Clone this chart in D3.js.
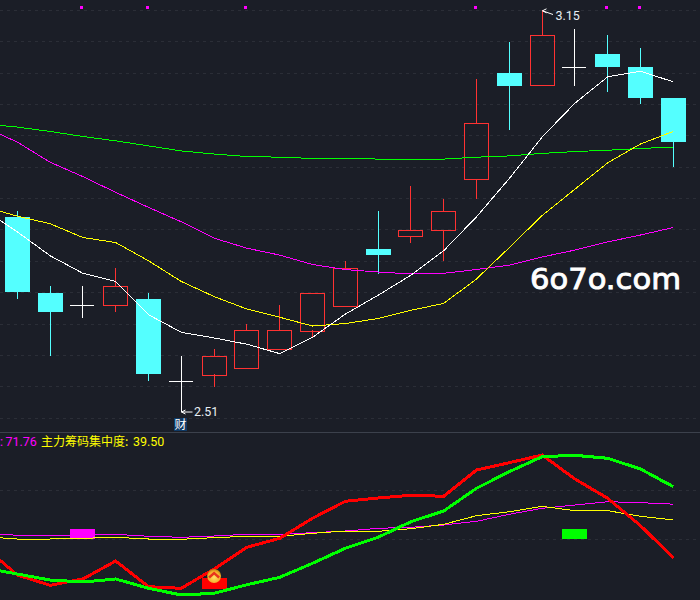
<!DOCTYPE html>
<html><head><meta charset="utf-8">
<style>html,body{margin:0;padding:0;background:#1b1e27;overflow:hidden}svg{display:block}</style>
<script src="https://cdn.jsdelivr.net/npm/d3@7"></script></head>
<body><svg id="c" width="700" height="600"></svg>
<script>
// candle index: -1 is the partly visible session before the first whole candle
const sessions=[-1,0,1,2,3,4,5,6,7,8,9,10,11,12,13,14,15,16,17,18,19,20];
const opens =[2.82,2.70,2.68,2.68,2.69,2.56,2.57,2.58,2.61,2.64,2.68,2.77,2.79,2.80,2.88,3.05,3.03,3.06,3.08,3.06,3.01];
const closes=[2.70,2.67,2.68,2.71,2.57,2.56,2.60,2.64,2.64,2.70,2.74,2.76,2.80,2.83,2.97,3.03,3.11,3.06,3.06,3.01,2.94];
const highs =[2.83,2.71,2.71,2.74,2.70,2.60,2.61,2.65,2.68,2.70,2.75,2.83,2.87,2.85,3.04,3.10,3.15,3.12,3.11,3.09,3.01];
const lows  =[2.69,2.60,2.66,2.67,2.56,2.51,2.55,2.58,2.61,2.63,2.68,2.73,2.78,2.75,2.85,2.96,3.03,3.03,3.02,3.00,2.90];
const ma5 =[2.832,2.797,2.759,2.731,2.718,2.665,2.637,2.628,2.618,2.603,2.629,2.666,2.696,2.728,2.767,2.821,2.882,2.948,3.002,3.044,3.053,3.036];
const ma10=[2.837,2.822,2.810,2.788,2.780,2.751,2.718,2.694,2.674,2.661,2.647,2.651,2.659,2.672,2.683,2.722,2.772,2.823,2.865,2.907,2.937,2.957];
const ma20=[2.964,2.940,2.908,2.885,2.860,2.836,2.813,2.787,2.771,2.760,2.745,2.737,2.733,2.730,2.731,2.737,2.744,2.757,2.768,2.781,2.792,2.804];
const ma60=[2.969,2.964,2.957,2.949,2.942,2.934,2.926,2.921,2.917,2.916,2.914,2.914,2.913,2.913,2.913,2.916,2.918,2.922,2.925,2.927,2.930,2.932];
const markers=[2,4,7,14,18,19];
const redLine  =[-15.7,-72.9,-93.9,-81.0,-44.3,-96.7,-100,-60.6,-16.3,2.0,42.9,77.6,84.3,89.8,87.8,141.4,156.3,172,123.1,83.7,27.8,-37.6];
const greenLine=[-58.6,-70.8,-83.1,-87.1,-81.0,-100,-113.7,-110.2,-92.7,-77.6,-49,-18.4,4.1,35.9,57.8,104.1,138,168.6,171.4,165.3,143.5,107.3];
const magentaLine=[12.2,8.2,8.2,8.8,10.2,6.1,4.1,6.7,10.2,10.2,13.5,16.9,22.4,24.5,29.2,36.7,51,63.3,70,76.7,74.7,71.76];
const yellowLine =[5.3,0.6,0.6,2.0,4.1,0.6,0,3.3,6.1,6.1,12.2,16.9,16.3,21.6,30.6,48.2,56.3,67.3,58.4,58.4,47,39.5];
const signals=[{i:2,lo:0,hi:21,c:"#ff00ff"},{i:6,lo:-100.5,hi:-79,c:"#ff0000"},{i:17,lo:0,hi:21,c:"#00ff00"}];
const priceTicks=d3.range(0,14).map(k=>2.5+k*0.05);
const oscTicks=[0,100];

const BG="#1b1e27",CYAN="#54ffff",RED="#ff3232";
const svg=d3.select("#c");
const x=d3.scaleLinear().domain([0,20]).range([17.3,673.3]);
const y=d3.scaleLinear().domain([2.5,3.15]).range([418.3,10.3]);
const yo=d3.scaleLinear().domain([0,100]).range([539.3,490.3]);
const snap=v=>Math.round(v)+.5;

svg.append("rect").attr("width",700).attr("height",600).attr("fill",BG);
const grid=svg.append("g").attr("stroke","#2b2e37").attr("stroke-dasharray","3 4");
grid.selectAll(".p").data(priceTicks).join("line").attr("x1",0).attr("x2",700).attr("y1",d=>snap(y(d)-.5)).attr("y2",d=>snap(y(d)-.5));
grid.selectAll(".o").data(oscTicks).join("line").attr("x1",0).attr("x2",700).attr("y1",d=>snap(yo(d)-.5)).attr("y2",d=>snap(yo(d)-.5));
svg.append("line").attr("x1",0).attr("x2",700).attr("y1",432.5).attr("y2",432.5).attr("stroke","#3c414c");

// magenta top markers
svg.append("g").selectAll("rect").data(markers).join("rect")
  .attr("x",d=>Math.floor(x(d))-2).attr("y",6).attr("width",3).attr("height",3).attr("fill","#ff00ff");

// candles
const cg=svg.append("g").attr("shape-rendering","crispEdges");
opens.forEach((o,i)=>{
  const c=closes[i],cx=Math.floor(x(i)),col=o===c?"#ffffff":(c>o?RED:CYAN);
  const top=y(Math.max(o,c)),bot=y(Math.min(o,c));
  if(c>o){
    cg.append("line").attr("x1",cx+.5).attr("x2",cx+.5).attr("y1",y(highs[i])).attr("y2",top).attr("stroke",col);
    cg.append("line").attr("x1",cx+.5).attr("x2",cx+.5).attr("y1",bot).attr("y2",y(lows[i])).attr("stroke",col);
    cg.append("rect").attr("x",cx-12+.5).attr("y",Math.round(top)+.5).attr("width",24).attr("height",Math.round(bot-top)).attr("fill","none").attr("stroke",col);
  }else{
    cg.append("line").attr("x1",cx+.5).attr("x2",cx+.5).attr("y1",y(highs[i])).attr("y2",y(lows[i])).attr("stroke",col);
    if(o===c) cg.append("line").attr("x1",cx-12).attr("x2",cx+12).attr("y1",Math.round(top)+.5).attr("y2",Math.round(top)+.5).attr("stroke",col);
    else cg.append("rect").attr("x",cx-12).attr("y",Math.round(top)).attr("width",25).attr("height",Math.round(bot-top)).attr("fill",col);
  }
});

const lineP=d3.line().x((d,i)=>x(sessions[i])).y(d=>y(d));
const lineO=d3.line().x((d,i)=>x(sessions[i])).y(d=>yo(d));
[[ma60,"#00ff00"],[ma20,"#ff00ff"],[ma10,"#ffff00"],[ma5,"#ffffff"]].forEach(([s,c])=>
  svg.append("path").attr("d",lineP(s)).attr("fill","none").attr("stroke",c).attr("stroke-width",1).attr("shape-rendering","crispEdges"));

// signal blocks
svg.append("g").attr("shape-rendering","crispEdges").selectAll("rect").data(signals).join("rect")
  .attr("x",d=>Math.floor(x(d.i))-12).attr("width",25)
  .attr("y",d=>yo(d.hi)).attr("height",d=>yo(d.lo)-yo(d.hi)).attr("fill",d=>d.c);

[[magentaLine,"#ff00ff",1],[yellowLine,"#ffff00",1],[redLine,"#ff0000",3],[greenLine,"#00ff00",3]].forEach(([s,c,w])=>
  svg.append("path").attr("d",lineO(s)).attr("fill","none").attr("stroke",c).attr("stroke-width",w)
    .attr("stroke-linejoin","miter").attr("shape-rendering","crispEdges"));

// buy icon
const defs=svg.append("defs");
const rg=defs.append("radialGradient").attr("id","gold").attr("cx","50%").attr("cy","60%").attr("r","60%");
rg.append("stop").attr("offset","0%").attr("stop-color","#ffe066");
rg.append("stop").attr("offset","70%").attr("stop-color","#f5b02a");
rg.append("stop").attr("offset","100%").attr("stop-color","#b87a10");
const ix=x(6),iy=576;
svg.append("circle").attr("cx",ix).attr("cy",iy).attr("r",7).attr("fill","url(#gold)");
svg.append("path").attr("d",`M${ix-5},${iy+1.5}L${ix},${iy-3}L${ix+5},${iy+1.5}`).attr("fill","none").attr("stroke","#e8341c").attr("stroke-width",2.4);

// annotations
const font="Roboto,'Noto Sans','Noto Sans CJK SC',sans-serif";
const note=(px,py,tx,ty,lx,ly,t)=>{
  svg.append("path").attr("d",`M${px},${py}L${tx},${ty}M${px+4},${py-2}L${px},${py}L${px+4},${py+2}`).attr("fill","none").attr("stroke","#ffffff").attr("stroke-width",1);
  svg.append("text").attr("x",lx).attr("y",ly).attr("fill","#e8eef4").attr("font-family",font).attr("font-size",12.5).text(t);
};
note(Math.floor(x(16))+.5,y(3.15)+.5,553,14.5,555.5,20,"3.15");
note(Math.floor(x(5))+.5,y(2.51),192.5,y(2.51),194,416,"2.51");

svg.append("rect").attr("x",174).attr("y",418).attr("width",13).attr("height",13).attr("fill","#0f3a66");
svg.append("text").attr("x",180.5).attr("y",429).attr("text-anchor","middle").attr("fill","#ffffff")
  .attr("font-family","'Noto Sans CJK SC'").attr("font-size",12).text("财");

const legend=(tx,c,t,f,s)=>svg.append("text").attr("x",tx).attr("y",445.5).attr("fill",c).attr("font-family",f).attr("font-size",s).text(t);
legend(0,"#ff00ff",":",font,12.5);
legend(5.5,"#ff00ff","71.76",font,12.5);
legend(41,"#ffff00","主力筹码集中度:","'Noto Sans CJK SC'",12);
legend(133,"#ffff00","39.50",font,12.5);

svg.append("text").attr("x",530).attr("y",289).attr("fill","#ffffff").attr("stroke","#ffffff").attr("stroke-width",0.9)
  .attr("font-family","'DejaVu Sans'").attr("font-size",29)
  .attr("textLength",151).attr("lengthAdjust","spacingAndGlyphs").text("6o7o.com");
</script></body></html>
